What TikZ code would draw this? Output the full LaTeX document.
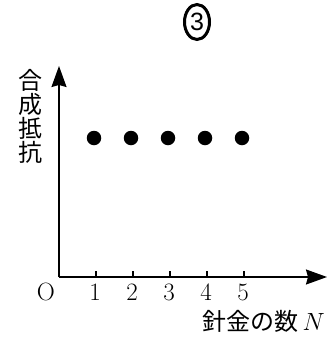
\documentclass[tikz,border=0pt]{standalone}
\usepackage{fontspec}
\newfontfamily\cjk{Noto Sans CJK JP}
\newfontfamily\numsans{Liberation Sans}
\usetikzlibrary{arrows.meta,shapes.geometric}
\begin{document}
\begin{tikzpicture}[x=1pt,y=-1pt,
  axis/.style={line width=1.6pt,-{Stealth[length=21pt,width=15pt,inset=2pt]}},
  tickmark/.style={line width=1.2pt},
  dot/.style={circle,fill=black,inner sep=0pt,minimum size=14.5pt},
  ticklabel/.style={font=\fontsize{25}{26}\selectfont,inner sep=0pt},
  ylab/.style={font=\fontsize{24}{24}\selectfont\cjk,inner sep=0pt,align=center},
  xlab/.style={font=\fontsize{24}{26}\selectfont,inner sep=0pt,anchor=east},
  circnum/.style={ellipse,draw,line width=3pt,inner sep=0pt,minimum width=25pt,minimum height=35pt,font=\fontsize{25}{25}\selectfont\numsans}]
\useasboundingbox (0,0) rectangle (335,338);
\coordinate (O) at (59,277);
\coordinate (ytip) at (59,66);
\coordinate (xtip) at (327,277);
\draw[axis] (O) -- (ytip);
\draw[axis] (O) -- (xtip);
\foreach \i/\x in {1/96,2/133,3/170,4/207,5/244}{
  \coordinate (t\i) at (\x,277);
  \coordinate (tt\i) at (\x,271);
  \draw[tickmark] (t\i) -- (tt\i);
  \node[ticklabel] (l\i) at (\x-1,292) {\i};
  \node[dot] (d\i) at (\x-2,138) {};
}
\node[ticklabel] (o) at (46,292) {O};
\node[xlab] (xl) at (325,321) {{\cjk 針金の数}\,$N$};
\node[ylab] (yl) at (30,116) {合\\成\\抵\\抗};
\node[circnum] (c3) at (197,22) {3};
\end{tikzpicture}
\end{document}
